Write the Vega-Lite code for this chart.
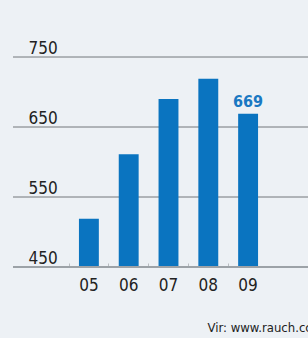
{
  "$schema": "https://vega.github.io/schema/vega-lite/v6.json",
  "width": 295,
  "height": 237,
  "autosize": {"type": "none"},
  "padding": {"left": 13, "top": 30, "right": 0, "bottom": 71},
  "background": "#edf1f5",
  "data": {"values": [
    {"year": "05", "value": 519},
    {"year": "06", "value": 611},
    {"year": "07", "value": 690},
    {"year": "08", "value": 719},
    {"year": "09", "value": 669}
  ]},
  "title": {
    "text": "Vir: www.rauch.cc",
    "orient": "bottom",
    "anchor": "end",
    "font": "DejaVu Sans Condensed",
    "fontSize": 13,
    "fontWeight": "normal",
    "color": "#222222",
    "offset": 29,
    "dx": 3
  },
  "layer": [
    {"mark": {"type": "rule", "color": "#aeb2b6", "strokeWidth": 1}, "encoding": {"y": {"datum": 550, "type": "quantitative", "scale": {"domain": [450, 788.6], "nice": false, "zero": false}}}},
    {"mark": {"type": "rule", "color": "#aeb2b6", "strokeWidth": 1}, "encoding": {"y": {"datum": 650, "type": "quantitative"}}},
    {"mark": {"type": "rule", "color": "#aeb2b6", "strokeWidth": 1}, "encoding": {"y": {"datum": 750, "type": "quantitative"}}},
    {
      "mark": {"type": "bar", "color": "#0a74c0", "clip": true},
      "encoding": {
        "x": {
          "field": "year", "type": "ordinal",
          "scale": {"range": [56, 255], "paddingInner": 0.5, "paddingOuter": 0.25},
          "axis": {
            "title": null, "labelAngle": 0, "domain": false,
            "labelFont": "DejaVu Sans Condensed", "labelFontSize": 17, "labelColor": "#222222",
            "tickColor": "#b9bdc1", "tickSize": -4, "bandPosition": -0.5,
            "labelPadding": 14
          }
        },
        "y": {
          "field": "value", "type": "quantitative",
          "axis": {
            "title": null, "values": [450, 550, 650, 750],
            "domain": false, "ticks": false, "grid": false,
            "labelAlign": "left", "labelBaseline": "bottom",
            "labelPadding": -15, "labelDy": -4,
            "labelFont": "DejaVu Sans Condensed", "labelFontSize": 17, "labelColor": "#222222"
          }
        }
      }
    },
    {"mark": {"type": "rule", "color": "#9da2a7", "strokeWidth": 1.5}, "encoding": {"y": {"datum": 450, "type": "quantitative"}}},
    {
      "transform": [{"filter": "datum.year == '09'"}],
      "mark": {"type": "text", "dy": -12, "font": "DejaVu Sans Condensed", "fontSize": 16, "fontWeight": "bold", "color": "#1a78c2"},
      "encoding": {
        "x": {"field": "year", "type": "ordinal"},
        "y": {"field": "value", "type": "quantitative"},
        "text": {"field": "value", "type": "quantitative"}
      }
    }
  ],
  "config": {"view": {"stroke": null}}
}
